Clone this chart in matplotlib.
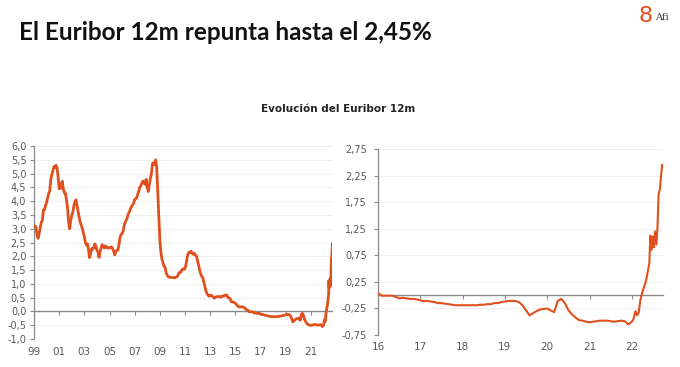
import matplotlib
matplotlib.use("Agg")
import matplotlib.pyplot as plt
import matplotlib.dates as mdates
from matplotlib.ticker import FixedLocator
import numpy as np
import pandas as pd

# ---------------- data ----------------
title = "El Euribor 12m repunta hasta el 2,45%"
subtitle = "Evolución del Euribor 12m"
logo_text = "Afi"

# Euribor 12m, monthly values Jan-1999 .. Dec-2021 (%)
monthly_values = [
    3.09, 3.10, 3.05, 2.76, 2.65, 2.84, 3.03, 3.24, 3.30, 3.68, 3.69, 3.83,   # 1999
    3.95, 4.11, 4.27, 4.36, 4.77, 4.96, 5.11, 5.25, 5.22, 5.30, 5.19, 4.88,   # 2000
    4.45, 4.63, 4.47, 4.72, 4.44, 4.30, 4.29, 4.04, 3.77, 3.26, 3.00, 3.30,   # 2001
    3.48, 3.59, 3.82, 3.96, 4.05, 3.87, 3.64, 3.44, 3.24, 3.13, 3.02, 2.87,   # 2002
    2.71, 2.50, 2.41, 2.45, 2.25, 1.95, 2.08, 2.28, 2.26, 2.30, 2.45, 2.38,   # 2003
    2.22, 2.16, 1.96, 2.16, 2.30, 2.42, 2.36, 2.30, 2.38, 2.32, 2.33, 2.30,   # 2004
    2.31, 2.31, 2.34, 2.27, 2.19, 2.05, 2.17, 2.22, 2.22, 2.41, 2.68, 2.78,   # 2005
    2.83, 2.91, 3.11, 3.22, 3.31, 3.40, 3.54, 3.62, 3.72, 3.80, 3.86, 3.92,   # 2006
    4.06, 4.09, 4.11, 4.25, 4.37, 4.51, 4.56, 4.67, 4.73, 4.65, 4.61, 4.79,   # 2007
    4.50, 4.35, 4.59, 4.82, 4.99, 5.36, 5.39, 5.32, 5.50, 5.25, 4.35, 3.45,   # 2008
    2.62, 2.14, 1.91, 1.77, 1.64, 1.61, 1.41, 1.33, 1.26, 1.24, 1.23, 1.24,   # 2009
    1.23, 1.23, 1.22, 1.23, 1.25, 1.28, 1.37, 1.42, 1.42, 1.50, 1.54, 1.53,   # 2010
    1.55, 1.71, 1.92, 2.09, 2.15, 2.14, 2.18, 2.10, 2.07, 2.11, 2.04, 2.00,   # 2011
    1.84, 1.68, 1.50, 1.37, 1.27, 1.22, 1.06, 0.88, 0.74, 0.65, 0.59, 0.55,   # 2012
    0.58, 0.59, 0.55, 0.53, 0.48, 0.51, 0.53, 0.54, 0.54, 0.54, 0.51, 0.54,   # 2013
    0.56, 0.55, 0.58, 0.60, 0.59, 0.51, 0.49, 0.47, 0.36, 0.34, 0.34, 0.33,   # 2014
    0.30, 0.25, 0.21, 0.18, 0.16, 0.16, 0.17, 0.16, 0.15, 0.13, 0.08, 0.06,   # 2015
    0.04, -0.01, -0.01, -0.01, -0.01, -0.03, -0.06, -0.05, -0.06, -0.07, -0.07, -0.08,   # 2016
    -0.10, -0.11, -0.11, -0.12, -0.13, -0.15, -0.15, -0.16, -0.17, -0.18, -0.19, -0.19,  # 2017
    -0.19, -0.19, -0.19, -0.19, -0.19, -0.18, -0.18, -0.17, -0.17, -0.15, -0.15, -0.13,  # 2018
    -0.12, -0.11, -0.11, -0.11, -0.13, -0.19, -0.28, -0.38, -0.34, -0.30, -0.27, -0.26,  # 2019
    -0.25, -0.29, -0.32, -0.11, -0.07, -0.15, -0.28, -0.36, -0.42, -0.47, -0.48, -0.50,  # 2020
    -0.51, -0.50, -0.49, -0.48, -0.48, -0.48, -0.49, -0.50, -0.49, -0.48, -0.49, -0.55,  # 2021
]

# 2022, semi-monthly detail (%)
dates_2022 = ["2022-01-01", "2022-01-15", "2022-02-01", "2022-02-15", "2022-03-01",
              "2022-03-15", "2022-04-01", "2022-04-15", "2022-05-01", "2022-05-15",
              "2022-06-01", "2022-06-10", "2022-06-20", "2022-07-01", "2022-07-10",
              "2022-07-20", "2022-08-01", "2022-08-10", "2022-08-20", "2022-09-01",
              "2022-09-10", "2022-09-20"]
values_2022 = [-0.50, -0.45, -0.30, -0.38, -0.33,
               -0.10, 0.05, 0.15, 0.25, 0.40,
               0.60, 1.12, 0.85, 1.10, 0.90,
               1.20, 0.95, 1.25, 1.90, 2.00,
               2.25, 2.45]

left_years = list(range(1999, 2022, 2))
right_years = list(range(2016, 2023))
left_yticks = [-1.0, -0.5, 0.0, 0.5, 1.0, 1.5, 2.0, 2.5, 3.0, 3.5, 4.0, 4.5, 5.0, 5.5, 6.0]
right_yticks = [-0.75, -0.25, 0.25, 0.75, 1.25, 1.75, 2.25, 2.75]

# ---------------- build series ----------------
dates = list(pd.date_range("1999-01-01", periods=len(monthly_values), freq="MS")) + \
        list(pd.to_datetime(dates_2022))
values = monthly_values + values_2022
series = pd.Series(values, index=pd.DatetimeIndex(dates))
recent = series[series.index >= "2016-01-01"]

LINE = "#E0501E"
AXC = "#8a8a8a"
TXT = "#595959"
GRID = "#efefef"

fig = plt.figure(figsize=(6.8, 3.67), dpi=100)
fig.patch.set_facecolor("white")

def style(ax, yticks, fmt, years, pad_x, pad_y):
    for s in ["top", "right"]:
        ax.spines[s].set_visible(False)
    ax.spines["left"].set_color(AXC)
    ax.spines["left"].set_linewidth(0.9)
    ax.spines["bottom"].set_position(("data", 0))
    ax.spines["bottom"].set_color(AXC)
    ax.spines["bottom"].set_linewidth(1.0)
    ax.set_yticks(yticks)
    ax.set_yticklabels([fmt(v) for v in yticks])
    ticks = [mdates.date2num(pd.Timestamp(f"{y}-01-01")) for y in years]
    ax.xaxis.set_major_locator(FixedLocator(ticks))
    ax.set_xticklabels([f"{y % 100:02d}" for y in years])
    ax.tick_params(axis="y", colors=AXC, labelcolor=TXT, labelsize=7, length=3, width=0.8, pad=pad_y)
    ax.tick_params(axis="x", colors=AXC, labelcolor=TXT, labelsize=7.5, length=3, width=0.8,
                   direction="out", pad=pad_x)
    for t in yticks:
        ax.axhline(t, color=GRID, lw=0.8, zorder=0)
    ax.set_facecolor("white")

# Left chart
axL = fig.add_axes([34/680, 1-339/367, 298/680, 193/367])
axL.plot(series.index, series.values, color=LINE, lw=2.0, zorder=3)
axL.set_xlim(pd.Timestamp("1999-01-01"), pd.Timestamp("2022-09-08"))
axL.set_ylim(-1.0, 6.0)
style(axL, left_yticks, lambda v: f"{v:.1f}".replace(".", ","), left_years, pad_x=22.5, pad_y=2.5)

# Right chart
axR = fig.add_axes([378/680, 1-335/367, 285/680, 186/367])
axR.plot(recent.index, recent.values, color=LINE, lw=1.5, zorder=3)
axR.set_xlim(pd.Timestamp("2016-01-01"), pd.Timestamp("2022-09-27"))
axR.set_ylim(-0.75, 2.75)
style(axR, right_yticks, lambda v: f"{v:.2f}".replace(".", ","), right_years, pad_x=31, pad_y=5)

# Texts
t = fig.text(19/680, 1-40/367, title, fontsize=19, fontweight="bold", color="#111111",
             family="Lato", va="baseline", ha="left")
renderer = fig.canvas.get_renderer()
w = t.get_window_extent(renderer).width
t.set_fontsize(19 * 411 / w)

fig.text(338/680, 1-112/367, subtitle, fontsize=7.5, fontweight="bold", color="#222222",
         family="DejaVu Sans", va="baseline", ha="center")
fig.text(646/680, 1-16/367, "8", fontsize=16, color="#E0501E", family="DejaVu Sans",
         va="center", ha="center")
fig.text(655/680, 1-17/367, logo_text, fontsize=7, color="#333333", family="DejaVu Serif",
         va="center", ha="left")

fig.savefig("out.png", dpi=100, facecolor="white")
